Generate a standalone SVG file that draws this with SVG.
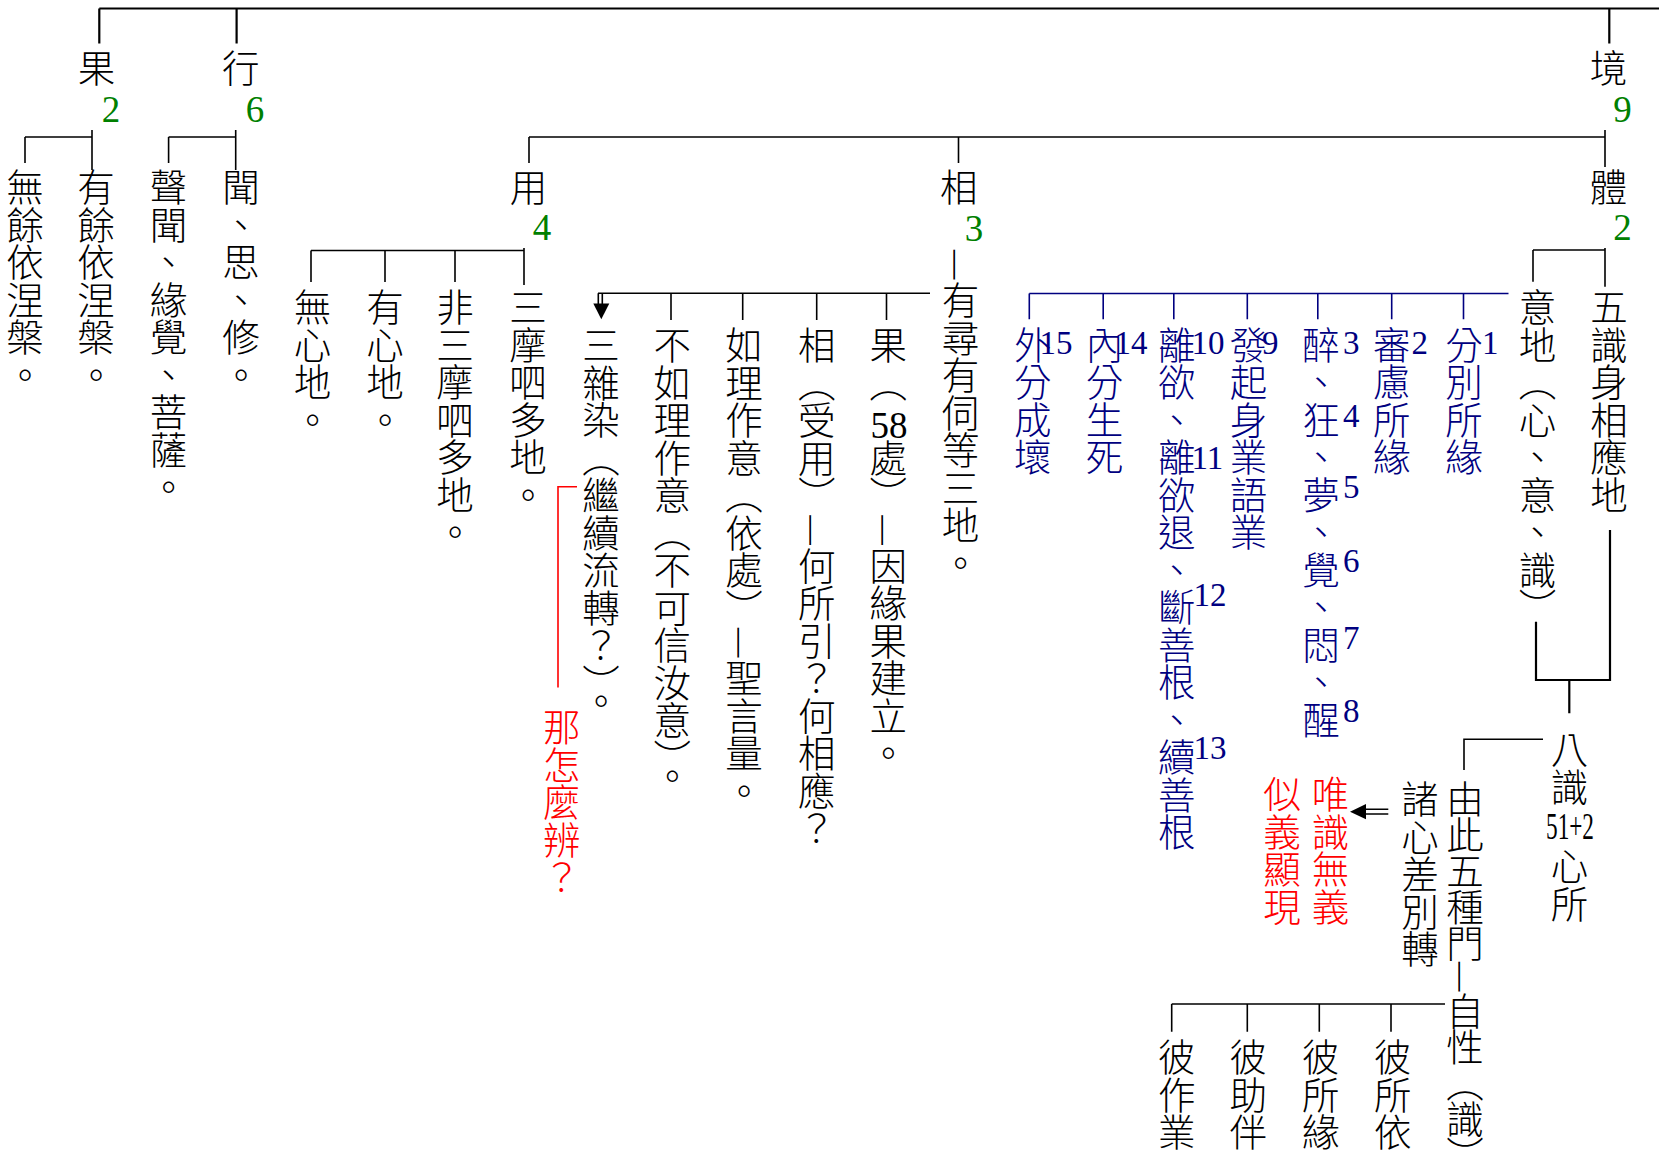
<svg xmlns="http://www.w3.org/2000/svg" width="1659" height="1169" viewBox="0 0 1659 1169">
<style>
.v{writing-mode:vertical-rl;font-family:"Noto Sans CJK TC","Noto Sans CJK JP",sans-serif;font-size:37.5px;font-weight:300;fill:#000}
.b{fill:#000080}
.r{fill:#ff0000}
.g{font-family:"Liberation Serif",serif;font-size:37px;fill:#008000;text-anchor:middle}
.n{font-family:"Liberation Serif",serif;font-size:33px;fill:#000080}
.d{font-family:"Liberation Serif",serif;font-size:37px;fill:#000;text-anchor:middle}
.ln{stroke:#000;stroke-width:1.6;fill:none}
.lt{stroke:#000;stroke-width:2.2;fill:none}
.lb{stroke:#000080;stroke-width:1.6;fill:none}
.lr{stroke:#ff0000;stroke-width:1.6;fill:none}
</style>
<rect width="1659" height="1169" fill="#fff"/>
<g id="connectors">
<path class="lt" d="M99.3 8.5H1659M99.3 8.5V43.5M236.6 8.5V43.5M1609.3 8.5V43.5"/>
<path class="ln" d="M92 130V170M25 137H92M25 137V163"/>
<path class="ln" d="M235.7 130V170M168.6 137H235.7M168.6 137V163"/>
<path class="ln" d="M1605 130V167M529 137H1605M529 137V163M958.5 137V163"/>
<path class="ln" d="M524 248V285M311 250.5H524M311 250.5V282M385 250.5V282M455 250.5V282"/>
<path class="ln" d="M598 293.3H930M671 293.3V320M742.7 293.3V320M816.7 293.3V320M886.5 293.3V320M598.3 293.3V304M602.3 293.3V304"/>
<polygon points="593.3,303.5 609.3,303.5 601.3,319.3" fill="#000"/>
<path class="lr" d="M577 486.7H558V687.6"/>
<path class="ln" d="M1605 248V286.7M1533 250H1605M1533 250V281.7"/>
<path class="lb" d="M1029.3 293.5H1508.5M1029.3 293.5V319.2M1103.2 293.5V319.2M1173.8 293.5V319.2M1247.3 293.5V319.2M1317.8 293.5V319.2M1391.7 293.5V319.2M1463.5 293.5V319.2"/>
<path class="lt" d="M1610 530V680H1536V621.7M1569.3 680V713.3"/>
<path class="ln" d="M1543 739.3H1464V770"/>
<path class="ln" d="M1366 809.3H1388.3M1366 814H1388.3"/>
<polygon points="1350,811.7 1366,804 1366,819.3" fill="#000"/>
<path class="ln" d="M1171.7 1004H1445M1171.7 1004V1031.7M1247.3 1004V1031.7M1319.3 1004V1031.7M1391 1004V1031.7"/>
</g>
<g id="guo"><text class="v" x="96.5" y="49">果</text><text class="g" x="111" y="121.5">2</text></g>
<g id="xing"><text class="v" x="240.7" y="49">行</text><text class="g" x="255" y="121.5">6</text></g>
<g id="jing"><text class="v" x="1608.5" y="49">境</text><text class="g" x="1622.5" y="121.5">9</text></g>
<g id="wuyu"><text class="v" x="25" y="168">無餘依涅槃。</text></g>
<g id="youyu"><text class="v" x="96" y="168">有餘依涅槃。</text></g>
<g id="shengwen"><text class="v" x="168.6" y="168">聲聞、緣覺、菩薩。</text></g>
<g id="wensixiu"><text class="v" x="241" y="168">聞、思、修。</text></g>
<g id="yong"><text class="v" x="528.5" y="168">用</text><text class="g" x="542" y="240">4</text></g>
<g id="xiang"><text class="v" x="958.7" y="168">相</text><text class="g" x="974" y="241">3</text></g>
<g id="ti"><text class="v" x="1608.5" y="168">體</text><text class="g" x="1622.5" y="240">2</text></g>
<g id="wuxin"><text class="v" x="312.5" y="288">無心地。</text></g>
<g id="youxin"><text class="v" x="385" y="288">有心地。</text></g>
<g id="feisanmo"><text class="v" x="455" y="288">非三摩呬多地。</text></g>
<g id="sanmo"><text class="v" x="528" y="288">三摩呬多地。</text></g>
<g id="youxun"><text class="v" x="960.5" y="248">—有尋有伺等三地。</text></g>
<g id="guo58"><text class="v" x="888.3" y="326">果（</text><text class="d" x="889" y="437.5">58</text><text class="v" x="888.3" y="438.5">處）—因緣果建立。</text></g>
<g id="xiangshou"><text class="v" x="816.7" y="326">相（受用）—何所引？何相應？</text></g>
<g id="ruli"><text class="v" x="744" y="326">如理作意（依處）—聖言量。</text></g>
<g id="buruli"><text class="v" x="672.3" y="326">不如理作意（不可信汝意）。</text></g>
<g id="sanzaran"><text class="v" x="601" y="326">三雜染（繼續流轉？）。</text></g>
<g id="nazenme"><text class="v r" x="561.7" y="708">那怎麼辨？</text></g>
<g id="yidi"><text class="v" x="1537.5" y="288">意地（心、意、識）</text></g>
<g id="wushi"><text class="v" x="1609" y="288">五識身相應地</text></g>
<g id="waifen"><text class="v b" x="1032.7" y="325.5">外分成壞</text><text class="n" x="1039.5" y="354">15</text></g>
<g id="neifen"><text class="v b" x="1104.5" y="325.5">內分生死</text><text class="n" x="1114.5" y="354">14</text></g>
<g id="liyu"><text class="v b" x="1176.8" y="325.5">離欲、離欲退、斷善根、續善根</text><text class="n" x="1191.5" y="354">10</text><text class="n" x="1191.5" y="468.5">11</text><text class="n" x="1193.5" y="605.5">12</text><text class="n" x="1193.5" y="759">13</text></g>
<g id="faqi"><text class="v b" x="1248.5" y="325.5">發起身業語業</text><text class="n" x="1262" y="354">9</text></g>
<g id="zui"><text class="v b" x="1321" y="325.5">醉、狂、夢、覺、悶、醒</text><text class="n" x="1343" y="354">3</text><text class="n" x="1343" y="427">4</text><text class="n" x="1343" y="497.5">5</text><text class="n" x="1343" y="572.3">6</text><text class="n" x="1343" y="649">7</text><text class="n" x="1343" y="721.7">8</text></g>
<g id="shenlu"><text class="v b" x="1391.7" y="325.5">審慮所緣</text><text class="n" x="1411.5" y="354">2</text></g>
<g id="fenbie"><text class="v b" x="1464" y="325.5">分別所緣</text><text class="n" x="1482" y="354">1</text></g>
<g id="bashi"><text class="v" x="1569.5" y="730">八識</text><text class="d" x="1570" y="839" font-size="39" textLength="48" lengthAdjust="spacingAndGlyphs">51+2</text><text class="v" x="1569.5" y="847">心所</text></g>
<g id="youci"><text class="v" x="1465" y="780" letter-spacing="-1.5">由此五種門—自性（識）</text></g>
<g id="zhuxin"><text class="v" x="1420" y="780">諸心差別轉</text></g>
<g id="weishi"><text class="v r" x="1330.5" y="775">唯識無義</text></g>
<g id="siyi"><text class="v r" x="1282" y="775">似義顯現</text></g>
<g id="bizuoye"><text class="v" x="1176.7" y="1038">彼作業</text></g>
<g id="bizhuban"><text class="v" x="1248.3" y="1038">彼助伴</text></g>
<g id="bisuoyuan"><text class="v" x="1320.7" y="1038">彼所緣</text></g>
<g id="bisuoyi"><text class="v" x="1392.7" y="1038">彼所依</text></g>
</svg>
